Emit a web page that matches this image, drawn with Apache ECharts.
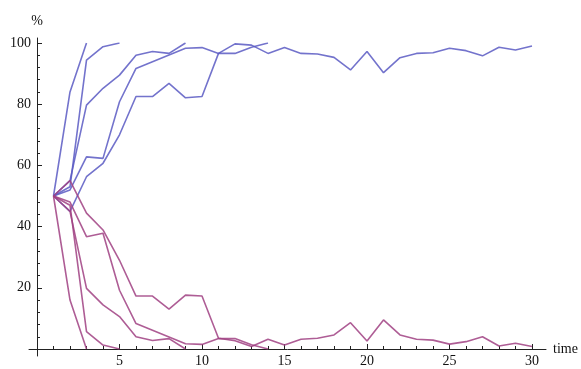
<!DOCTYPE html>
<html>
<head>
<meta charset="utf-8">
<script src="https://cdn.jsdelivr.net/npm/echarts@6/dist/echarts.min.js"></script>
<style>html,body{margin:0;padding:0;background:#fff;}#c{width:581px;height:369px;}</style>
</head>
<body>
<div id="c"></div>
<script>
// time steps start at 1
const startTime = 1;
const xTicks = [0, 5, 10, 15, 20, 25, 30];
const yTicks = [0, 20, 40, 60, 80, 100];

// blue: allele frequency (%) of one type in five runs
const blueA = [50, 84, 100];
const blueB = [50, 53, 94.4, 98.8, 100];
const blueC = [50, 55, 79.7, 85.2, 89.5, 96, 97.2, 96.6, 100];
const blueD = [50, 45, 56.3, 60.7, 70, 82.5, 82.5, 86.8, 82.1, 82.5, 96.6, 99.7, 99.3, 96.6, 98.5, 96.6, 96.4, 95.3, 91.2, 97.2, 90.3, 95.2, 96.6, 96.8, 98.3, 97.5, 95.8, 98.6, 97.7, 99.0];
const blueE = [50, 52, 62.8, 62.3, 80.8, 91.7, 93.9, 96.1, 98.3, 98.5, 96.6, 96.6, 98.6, 100];

// magenta: the other type in the same five runs
const magA = [50, 16, 0];
const magB = [50, 47, 5.7, 1.3, 0];
const magC = [50, 45, 19.8, 14.4, 10.6, 4, 2.8, 3.4, 0];
const magD = [50, 55, 44.4, 38.9, 29, 17.3, 17.3, 13, 17.6, 17.3, 3.5, 2.7, 0.8, 3.2, 1.3, 3.2, 3.5, 4.6, 8.6, 2.6, 9.5, 4.6, 3.2, 2.9, 1.6, 2.4, 4.0, 1.0, 1.9, 0.8];
const magE = [50, 48, 36.7, 37.8, 19.2, 8.3, 6.1, 3.9, 1.7, 1.5, 3.4, 3.4, 1.4, 0];

const blueColor = 'rgba(90,90,195,0.85)';
const magColor = 'rgba(160,65,130,0.85)';

function pairs(arr){ return arr.map((v,i)=>[startTime+i, v]); }
function mk(arr, color){
  return {type:'line', data:pairs(arr), xAxisIndex:0, yAxisIndex:0, showSymbol:false, symbol:'none',
    lineStyle:{color:color, width:1.6}, silent:true, animation:false};
}

const font = 'Liberation Serif';
const axisColor = '#222';

const chart = echarts.init(document.getElementById('c'), null, {renderer:'canvas'});
chart.setOption({
  animation:false,
  backgroundColor:'#fff',
  grid:[
    {left:37, width:495, top:43, height:306},
    {left:29, width:517, top:38, height:318}
  ],
  xAxis:[
    {type:'value', gridIndex:0, min:xTicks[0], max:xTicks[xTicks.length-1], interval:5,
      axisLine:{show:false},
      axisTick:{show:true, inside:true, length:5, lineStyle:{color:axisColor, width:1}},
      minorTick:{show:true, splitNumber:5, length:3, lineStyle:{color:axisColor, width:1}},
      splitLine:{show:false},
      axisLabel:{fontFamily:font, fontSize:14, color:'#111', margin:5,
        formatter:v=> v===0 ? '' : String(v)}
    },
    {type:'value', gridIndex:1, min:-0.485, max:30.85,
      axisLine:{show:true, onZero:true, lineStyle:{color:axisColor, width:1}},
      axisTick:{show:false}, axisLabel:{show:false}, splitLine:{show:false},
      name:'time', nameLocation:'end', nameGap:7,
      nameTextStyle:{fontFamily:font, fontSize:14, color:'#111', verticalAlign:'middle', align:'left', padding:[2,0,0,0]}
    }
  ],
  yAxis:[
    {type:'value', gridIndex:0, min:yTicks[0], max:yTicks[yTicks.length-1], interval:20,
      axisLine:{show:false},
      axisTick:{show:true, inside:true, length:5, lineStyle:{color:axisColor, width:1}},
      minorTick:{show:true, splitNumber:5, length:3, lineStyle:{color:axisColor, width:1}},
      splitLine:{show:false},
      axisLabel:{fontFamily:font, fontSize:14, color:'#111', margin:6,
        formatter:v=> v===0 ? '' : String(v)}
    },
    {type:'value', gridIndex:1, min:-2.29, max:101.63,
      axisLine:{show:true, onZero:true, lineStyle:{color:axisColor, width:1}},
      axisTick:{show:false}, axisLabel:{show:false}, splitLine:{show:false},
      name:'%', nameLocation:'end', nameGap:10,
      nameTextStyle:{fontFamily:font, fontSize:14, color:'#111', align:'center'}
    }
  ],
  series:[
    mk(blueA, blueColor), mk(blueB, blueColor), mk(blueC, blueColor), mk(blueD, blueColor), mk(blueE, blueColor),
    mk(magA, magColor), mk(magB, magColor), mk(magC, magColor), mk(magD, magColor), mk(magE, magColor)
  ]
});
</script>
</body>
</html>
